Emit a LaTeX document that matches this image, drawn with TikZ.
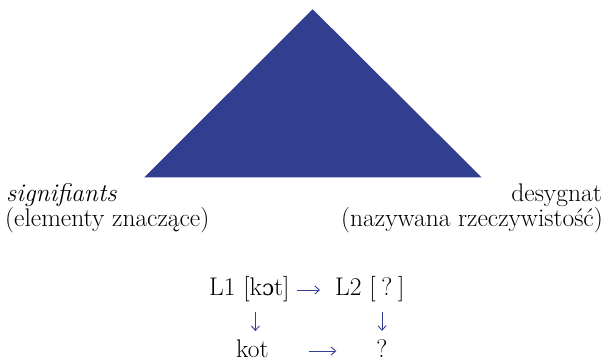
\documentclass[tikz,border=0pt]{standalone}
\usepackage{fontspec}
\newfontfamily\ipafont{DejaVu Serif}[Scale=0.85]
\usetikzlibrary{arrows.meta,positioning}
\definecolor{trblue}{RGB}{50,62,143}
\tikzset{
  lbl/.style={inner sep=0pt, font=\fontsize{25.5}{30}\selectfont},
  arr/.style={trblue, line width=0.9pt, -{Straight Barb[length=4.5pt,width=8pt]}},
}

\begin{document}
\begin{tikzpicture}[x=1pt,y=-1pt]
\useasboundingbox (0,0) rectangle (613,363);
\fill[trblue] (312.7,9.3) -- (481.7,177.5) -- (144,177.5) -- cycle;
% labels under the triangle
\node[lbl, anchor=base west] (sig) at (6,202) {\itshape signifiants};
\node[lbl, anchor=base west] (sigel) at (5,227) {(elementy znaczące)};
\node[lbl, anchor=base east] (des) at (602,202) {desygnat};
\node[lbl, anchor=base east] (desrz) at (603,227) {(nazywana rzeczywistość)};
% translation scheme
\node[lbl, anchor=base west] (l1) at (209,296) {L1 [k{\ipafont ɔ}t]};
\node[lbl, anchor=base west] (l2) at (335,296) {L2 [\:?\:]};
\node[lbl, anchor=base west] (kot) at (236,357) {kot};
\node[lbl, anchor=base] (q) at (382,357) {?};
\draw[arr, shorten <=7pt, shorten >=15pt] ([yshift=6pt]l1.base east) -- ([yshift=6pt]l2.base west);
\draw[arr, shorten <=40pt, shorten >=40pt] ([yshift=6pt]kot.base east) -- ([yshift=6pt]q.base west);
\draw[arr, shorten <=9pt, shorten >=8pt] ([xshift=6pt]l1.south) -- ([xshift=6pt]l1.south |- kot.north);
\draw[arr, shorten <=9pt, shorten >=8pt] (q.north |- l2.south) -- (q.north);
\end{tikzpicture}
\end{document}
